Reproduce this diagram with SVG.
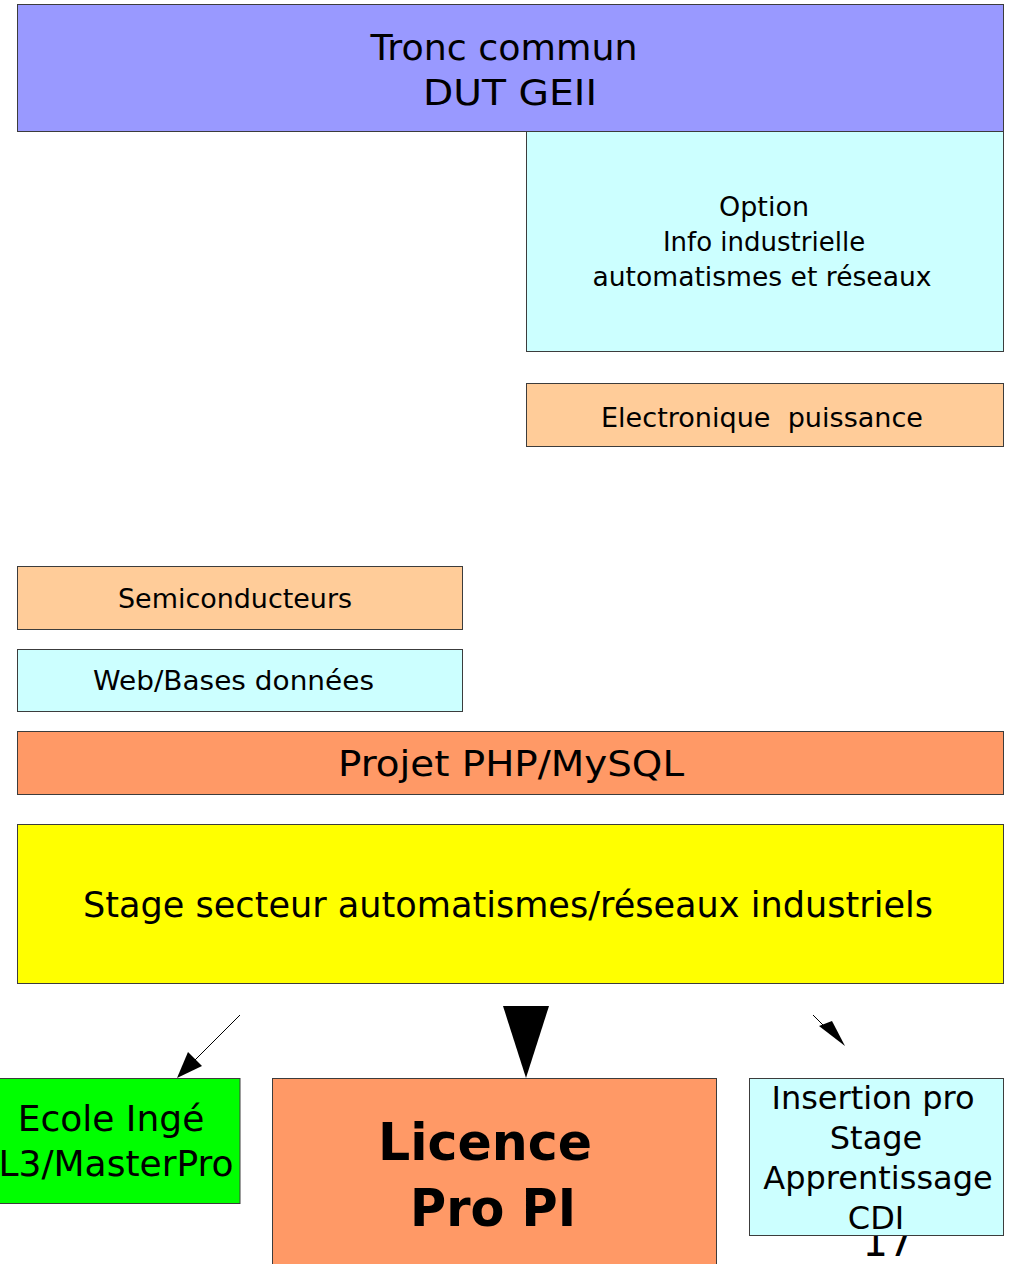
<svg xmlns="http://www.w3.org/2000/svg" width="1009" height="1264" viewBox="0 0 1009 1264">
<style>
.b{stroke:#3c3c3c;stroke-width:1}
text{font-family:"DejaVu Sans","Liberation Sans",sans-serif;fill:#000;text-anchor:middle}
.s26{font-size:26px}
.s36{font-size:36px}
.s32{font-size:32px}
.big{font-size:51px;font-weight:bold}
</style>
<rect width="1009" height="1264" fill="#fff"/>
<text x="888" y="1256" style="font-size:40px">17</text>
<g id="tronc"><rect class="b" x="17.5" y="4.5" width="986" height="127" fill="#9999ff"/>
<text class="s36" x="504" y="60" textLength="267" lengthAdjust="spacingAndGlyphs">Tronc commun</text><text class="s36" x="510" y="105" textLength="174" lengthAdjust="spacingAndGlyphs">DUT GEII</text></g>
<g id="option"><rect class="b" x="526.5" y="131.5" width="477" height="220" fill="#ccffff"/>
<text class="s26" x="764" y="216" textLength="90" lengthAdjust="spacingAndGlyphs">Option</text><text class="s26" x="764" y="251">Info industrielle</text><text class="s26" x="762" y="286" textLength="339" lengthAdjust="spacingAndGlyphs">automatismes et réseaux</text></g>
<g id="elec"><rect class="b" x="526.5" y="383.5" width="477" height="63" fill="#ffcc99"/>
<text class="s26" x="762" y="427" xml:space="preserve" textLength="322" lengthAdjust="spacingAndGlyphs">Electronique  puissance</text></g>
<g id="semi"><rect class="b" x="17.5" y="566.5" width="445" height="63" fill="#ffcc99"/>
<text class="s26" x="235" y="608" textLength="234" lengthAdjust="spacingAndGlyphs">Semiconducteurs</text></g>
<g id="web"><rect class="b" x="17.5" y="649.5" width="445" height="62" fill="#ccffff"/>
<text class="s26" x="233.5" y="690" textLength="281" lengthAdjust="spacingAndGlyphs">Web/Bases données</text></g>
<g id="projet"><rect class="b" x="17.5" y="731.5" width="986" height="63" fill="#ff9966"/>
<text class="s36" x="511" y="776" textLength="346" lengthAdjust="spacingAndGlyphs">Projet PHP/MySQL</text></g>
<g id="stage"><rect class="b" x="17.5" y="824.5" width="986" height="159" fill="#ffff00"/>
<text class="s36" x="508" y="917" textLength="850" lengthAdjust="spacingAndGlyphs">Stage secteur automatismes/réseaux industriels</text></g>
<g id="ecole"><rect class="b" x="-1" y="1078.5" width="241" height="125" fill="#00ff00"/>
<text class="s36" x="111" y="1131">Ecole Ingé</text><text class="s36" x="116" y="1176">L3/MasterPro</text></g>
<g id="licence"><rect class="b" x="272.5" y="1078.5" width="444" height="200" fill="#ff9966"/>
<text class="big" x="485" y="1160" textLength="214" lengthAdjust="spacingAndGlyphs">Licence</text><text class="big" x="493" y="1226" textLength="166" lengthAdjust="spacingAndGlyphs">Pro PI</text></g>
<g id="insertion"><rect class="b" x="749.5" y="1078.5" width="254" height="157" fill="#ccffff"/>
<text class="s32" x="873" y="1109">Insertion pro</text><text class="s32" x="876" y="1149">Stage</text><text class="s32" x="878" y="1189">Apprentissage</text><text class="s32" x="876" y="1229">CDI</text></g>
<g id="connectors">
<line x1="240" y1="1015" x2="193" y2="1062" stroke="#000" stroke-width="1"/>
<polygon points="177,1078 188,1052 202,1066" fill="#000"/>
<polygon points="503,1006 549,1006 526,1078" fill="#000"/>
<line x1="813" y1="1015" x2="828" y2="1030" stroke="#000" stroke-width="1"/>
<polygon points="845,1046 819,1026 832,1021" fill="#000"/>
</g>
</svg>
